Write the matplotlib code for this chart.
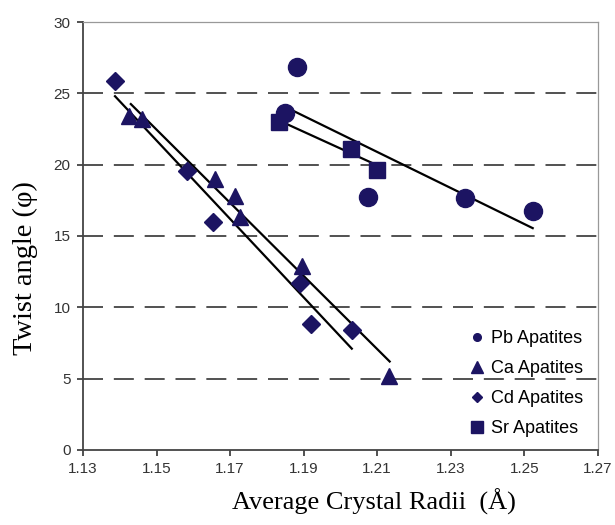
import matplotlib.pyplot as plt

# Data
pb_x = [1.1882, 1.1849, 1.2075, 1.2338, 1.2523]
pb_y = [26.85, 23.6, 17.7, 17.65, 16.75]
ca_x = [1.1425, 1.1460, 1.1659, 1.1713, 1.1727, 1.1895, 1.2132]
ca_y = [23.4, 23.2, 19.0, 17.8, 16.3, 12.9, 5.2]
cd_x = [1.1387, 1.1583, 1.1653, 1.1890, 1.1920, 1.2031]
cd_y = [25.9, 19.55, 16.0, 11.7, 8.8, 8.4]
sr_x = [1.1833, 1.2028, 1.2099]
sr_y = [23.0, 21.1, 19.6]

# Trendline endpoints
pb_fit_x = [1.1854, 1.2523]
pb_fit_y = [24.0, 15.55]
ca_fit_x = [1.1430, 1.2134]
ca_fit_y = [24.25, 6.2]
cd_fit_x = [1.1387, 1.2031]
cd_fit_y = [24.8, 7.1]
sr_fit_x = [1.1854, 1.2088]
sr_fit_y = [22.85, 20.1]

navy = '#1c1462'

fig = plt.figure(figsize=(6.15, 5.25), dpi=100)
ax = fig.add_axes([0.135, 0.143, 0.837, 0.815])

for y in [5, 10, 15, 20, 25]:
    ax.axhline(y, color='#333333', lw=1.2, dashes=(12, 6.5), zorder=1)

for fx, fy in [(pb_fit_x, pb_fit_y), (ca_fit_x, ca_fit_y),
               (cd_fit_x, cd_fit_y), (sr_fit_x, sr_fit_y)]:
    ax.plot(fx, fy, color='black', lw=1.6, zorder=2)

ax.plot(pb_x, pb_y, 'o', color=navy, ms=13, ls='none', zorder=3)
ax.plot(ca_x, ca_y, '^', color=navy, ms=12, ls='none', zorder=3)
ax.plot(cd_x, cd_y, 'D', color=navy, ms=9, ls='none', zorder=3)
ax.plot(sr_x, sr_y, 's', color=navy, ms=11, ls='none', zorder=3)

# legend with small markers
h = [plt.Line2D([], [], marker='o', color=navy, ls='none', ms=5.5),
     plt.Line2D([], [], marker='^', color=navy, ls='none', ms=8),
     plt.Line2D([], [], marker='D', color=navy, ls='none', ms=5),
     plt.Line2D([], [], marker='s', color=navy, ls='none', ms=9)]
labels = ['Pb Apatites', 'Ca Apatites', 'Cd Apatites', 'Sr Apatites']
leg = ax.legend(h, labels, loc='lower right', frameon=False,
                prop={'family': 'Liberation Sans', 'size': 13},
                handlelength=0.8, handletextpad=0.4, labelspacing=0.72,
                bbox_to_anchor=(1.003, -0.008))

ax.set_xlim(1.13, 1.27)
ax.set_ylim(0, 30)
ax.set_xticks([1.13, 1.15, 1.17, 1.19, 1.21, 1.23, 1.25, 1.27])
ax.set_yticks([0, 5, 10, 15, 20, 25, 30])
ax.set_xticklabels(['1.13', '1.15', '1.17', '1.19', '1.21', '1.23', '1.25', '1.27'])
for lab in ax.get_xticklabels() + ax.get_yticklabels():
    lab.set_family('Liberation Sans')
    lab.set_fontsize(11)
    lab.set_color('#333333')
ax.tick_params(direction='out', length=4, width=1.2, color='#333333', pad=5)

for s in ['left', 'bottom']:
    ax.spines[s].set_color('#444444')
    ax.spines[s].set_linewidth(1.3)
for s in ['top', 'right']:
    ax.spines[s].set_color('#999999')
    ax.spines[s].set_linewidth(0.9)

ax.set_xlabel('Average Crystal Radii  (Å)', family='Liberation Serif', fontsize=19)
ax.set_ylabel('Twist angle (φ)', family='Liberation Serif', fontsize=20.5)
ax.xaxis.set_label_coords(0.565, -0.09)
ax.yaxis.set_label_coords(-0.087, 0.425)

fig.savefig('out.png', dpi=100)
